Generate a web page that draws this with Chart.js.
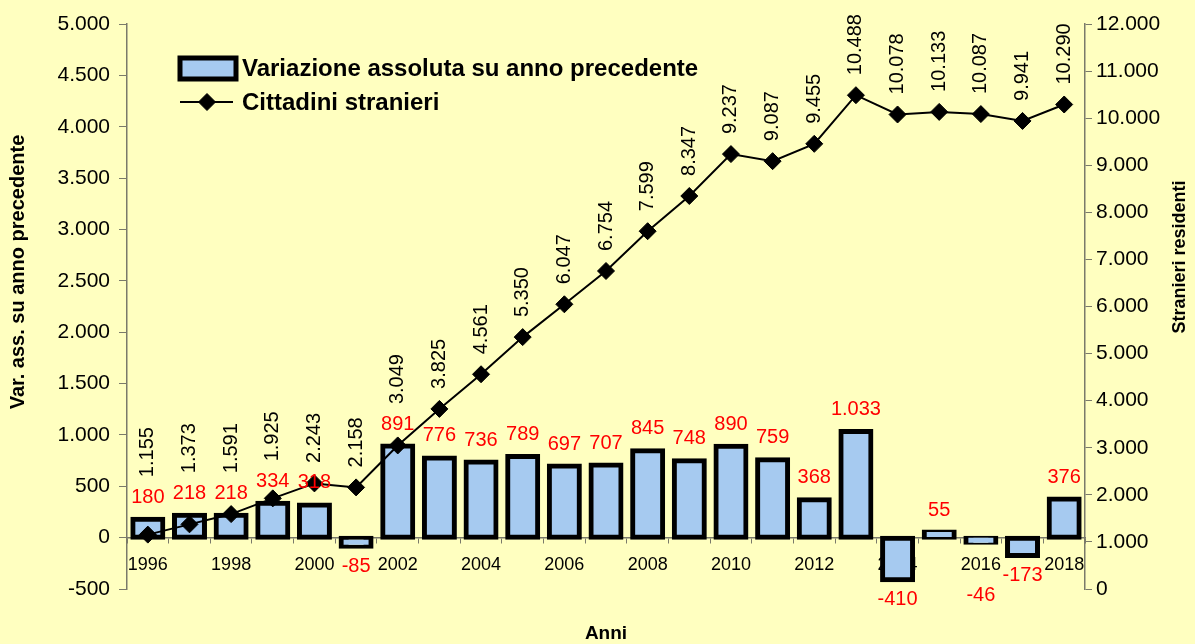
<!DOCTYPE html>
<html lang="it">
<head>
<meta charset="utf-8">
<title>Cittadini stranieri</title>
<script src="https://cdn.jsdelivr.net/npm/chart.js@4.4.1/dist/chart.umd.min.js"></script>
<style>
  html, body { margin: 0; padding: 0; background: #ffffc0; }
  #grafico { display: block; }
</style>
</head>
<body>
<canvas id="grafico" width="1195" height="644"></canvas>
<script>
// === Dati ===
const anni = ['1996', '1997', '1998', '1999', '2000', '2001', '2002', '2003', '2004', '2005', '2006', '2007',
  '2008', '2009', '2010', '2011', '2012', '2013', '2014', '2015', '2016', '2017', '2018'];
const variazione = [180, 218, 218, 334, 318, -85, 891, 776, 736, 789, 697, 707,
  845, 748, 890, 759, 368, 1033, -410, 55, -46, -173, 376];
const stranieri = [1155, 1373, 1591, 1925, 2243, 2158, 3049, 3825, 4561, 5350, 6047, 6754,
  7599, 8347, 9237, 9087, 9455, 10488, 10078, 10133, 10087, 9941, 10290];
const nomiSerie = ['Variazione assoluta su anno precedente', 'Cittadini stranieri'];
const titoloSx = 'Var. ass. su anno precedente';
const titoloDx = 'Stranieri residenti';
const titoloX = 'Anni';

// === Stile ===
const FONT = 'Arial, "Liberation Sans", sans-serif';
const SFONDO = '#ffffc0';
const BLU = '#a6caf0';
const ASSE = '#7a7a6a';

// separatore delle migliaia all'italiana
function migliaia(v) {
  return String(v).replace(/\B(?=(\d{3})+(?!\d))/g, '.');
}

const sfondo = {
  id: 'sfondo',
  beforeDraw(chart) {
    const ctx = chart.ctx;
    ctx.save();
    ctx.fillStyle = SFONDO;
    ctx.fillRect(0, 0, chart.width, chart.height);
    ctx.restore();
  }
};

// etichette valori: rosse sulle barre, verticali nere sui punti
const etichette = {
  id: 'etichette',
  afterDatasetsDraw(chart) {
    const ctx = chart.ctx;
    const barre = chart.getDatasetMeta(0).data;
    const punti = chart.getDatasetMeta(1).data;
    const zero = chart.scales.y.getPixelForValue(0);
    const centri = [];
    ctx.save();
    ctx.font = '20px ' + FONT;
    ctx.textAlign = 'center';
    ctx.textBaseline = 'middle';
    ctx.fillStyle = '#ff0000';
    barre.forEach((b, i) => {
      let yc;
      if (variazione[i] >= 0) {
        yc = b.y - 22;
      } else {
        yc = b.y + 20;
        // scendi sotto l'anno se l'etichetta dell'asse c'è
        if (i % 2 === 0) yc = Math.max(yc, zero + 58);
      }
      centri.push(yc);
      ctx.fillText(migliaia(variazione[i]), b.x, yc);
    });

    ctx.fillStyle = '#000';
    ctx.textAlign = 'left';
    punti.forEach((p, i) => {
      let base = p.y - 20;
      if (variazione[i] >= 0) base = Math.min(base, centri[i] - 20);
      ctx.save();
      ctx.translate(p.x, base);
      ctx.rotate(-Math.PI / 2);
      ctx.fillText(migliaia(stranieri[i]), 0, 0);
      ctx.restore();
    });
    ctx.restore();
  }
};

// legenda dentro l'area del grafico
const legenda = {
  id: 'legenda',
  afterDraw(chart) {
    const ctx = chart.ctx;
    const ds = chart.data.datasets;
    ctx.save();
    // barra
    ctx.fillStyle = BLU;
    ctx.fillRect(180, 58, 56, 21);
    ctx.strokeStyle = '#000';
    ctx.lineWidth = 5;
    ctx.strokeRect(180, 58, 56, 21);
    // linea con rombo
    ctx.lineWidth = 2;
    ctx.beginPath();
    ctx.moveTo(180, 102);
    ctx.lineTo(233, 102);
    ctx.stroke();
    ctx.fillStyle = '#000';
    ctx.lineWidth = 1;
    Chart.helpers.drawPoint(ctx, { pointStyle: 'rectRot', radius: 8.5, rotation: 0, borderWidth: 1 }, 207, 102);

    ctx.font = 'bold 24px ' + FONT;
    ctx.textAlign = 'left';
    ctx.textBaseline = 'middle';
    ctx.fillText(ds[0].label, 242, 69);
    ctx.fillText(ds[1].label, 242, 103);
    ctx.restore();
  }
};

// titoli degli assi
const titoli = {
  id: 'titoli',
  afterDraw(chart) {
    const ctx = chart.ctx;
    ctx.save();
    ctx.fillStyle = '#000';
    ctx.textAlign = 'center';
    ctx.textBaseline = 'middle';
    ctx.font = 'bold 20px ' + FONT;
    ctx.save();
    ctx.translate(18, 272);
    ctx.rotate(-Math.PI / 2);
    ctx.fillText(titoloSx, 0, 0);
    ctx.restore();
    ctx.font = 'bold 18px ' + FONT;
    ctx.save();
    ctx.translate(1180, 257);
    ctx.rotate(-Math.PI / 2);
    ctx.fillText(titoloDx, 0, 0);
    ctx.restore();
    ctx.font = 'bold 19px ' + FONT;
    ctx.fillText(titoloX, 606, 634);
    ctx.restore();
  }
};

const tickFont = { family: FONT, size: 21 };

new Chart(document.getElementById('grafico'), {
  data: {
    labels: anni,
    datasets: [
      {
        type: 'bar',
        label: nomiSerie[0],
        data: variazione,
        yAxisID: 'y',
        backgroundColor: BLU,
        borderColor: '#000',
        borderWidth: 5,
        borderSkipped: false,
        inflateAmount: 2.5,
        barPercentage: 0.72,
        categoryPercentage: 1,
        order: 2
      },
      {
        type: 'line',
        label: nomiSerie[1],
        data: stranieri,
        yAxisID: 'y1',
        borderColor: '#000',
        borderWidth: 2,
        tension: 0,
        pointStyle: 'rectRot',
        pointRadius: 8.5,
        pointBackgroundColor: '#000',
        pointBorderColor: '#000',
        pointBorderWidth: 1,
        order: 1
      }
    ]
  },
  options: {
    responsive: false,
    animation: false,
    layout: { padding: { top: 24, bottom: 55, left: 0, right: 0 } },
    plugins: {
      legend: { display: false },
      tooltip: { enabled: false }
    },
    scales: {
      x: {
        position: { y: 0 },
        grid: { drawOnChartArea: false, tickLength: 5, color: ASSE, offset: true },
        border: { color: ASSE, width: 1.5 },
        ticks: {
          autoSkip: false,
          maxRotation: 0,
          padding: 12,
          color: '#000',
          font: { family: FONT, size: 18 },
          callback: (v, i) => (i % 2 === 0 ? anni[i] : '')
        }
      },
      y: {
        position: 'left',
        min: -500,
        max: 5000,
        grid: { drawOnChartArea: false, tickLength: 8, color: ASSE },
        border: { color: ASSE, width: 1.5 },
        ticks: { stepSize: 500, padding: 9, color: '#000', font: tickFont, callback: v => migliaia(v) },
        afterFit(s) { s.width = 127; }
      },
      y1: {
        position: 'right',
        min: 0,
        max: 12000,
        grid: { drawOnChartArea: false, tickLength: 7, color: ASSE },
        border: { color: ASSE, width: 1.5 },
        ticks: { stepSize: 1000, padding: 4, color: '#000', font: tickFont, callback: v => migliaia(v) },
        afterFit(s) { s.width = 110; }
      }
    }
  },
  plugins: [sfondo, etichette, legenda, titoli]
});
</script>
</body>
</html>
